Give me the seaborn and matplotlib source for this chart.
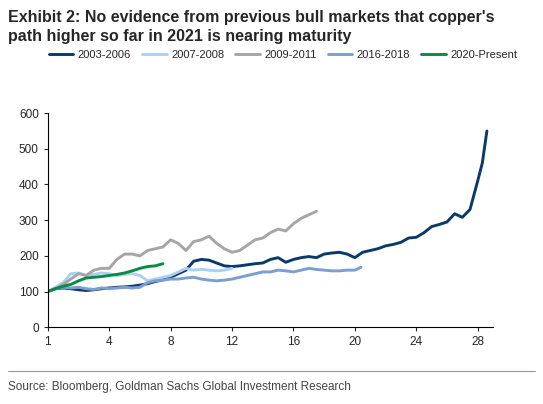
import pandas as pd
import matplotlib
matplotlib.use("Agg")
import matplotlib.pyplot as plt
import seaborn as sns

# months since start of each bull market (tick "1" sits at 0)
x_0306 = [0, 0.5, 1, 1.5, 2, 2.5, 3, 3.5, 4, 4.5, 5, 5.5, 6, 6.5, 7, 7.5, 8, 8.5, 9, 9.5, 10, 10.5, 11, 11.5, 12,
          12.5, 13, 13.5, 14, 14.5, 15, 15.5, 16, 16.5, 17, 17.5, 18, 18.5, 19, 19.5, 20, 20.5, 21, 21.5, 22, 22.5,
          23, 23.5, 24, 24.5, 25, 25.5, 26, 26.5, 27, 27.5, 28, 28.3, 28.6]
y_0306 = [100, 108, 110, 108, 105, 103, 105, 108, 110, 112, 113, 115, 118, 122, 128, 133, 140, 150, 160, 185, 190,
          188, 180, 172, 170, 172, 175, 178, 180, 190, 195, 182, 190, 195, 198, 195, 205, 208, 210, 205, 195, 210,
          215, 220, 228, 232, 238, 250, 252, 265, 282, 288, 295, 318, 308, 330, 410, 460, 550]
x_0708 = [i * 0.5 for i in range(25)]
y_0708 = [100, 112, 125, 150, 152, 145, 148, 152, 150, 145, 148, 150, 145, 130, 135, 140, 145, 155, 165, 160, 162,
          160, 158, 160, 165]
x_0911 = [i * 0.5 for i in range(36)]
y_0911 = [100, 108, 120, 135, 150, 145, 160, 165, 165, 190, 205, 205, 200, 215, 220, 225, 245, 235, 215, 240, 245,
          255, 235, 220, 210, 215, 230, 245, 250, 265, 275, 270, 290, 305, 315, 325]
x_1618 = [i * 0.5 for i in range(41)] + [20.4]
y_1618 = [100, 108, 112, 110, 112, 108, 106, 110, 108, 110, 112, 110, 112, 125, 130, 132, 135, 135, 138, 140, 135,
          132, 130, 132, 135, 140, 145, 150, 155, 155, 160, 158, 155, 160, 165, 162, 160, 158, 158, 160, 160, 168]
x_2020 = [i * 0.5 for i in range(16)]
y_2020 = [100, 108, 115, 120, 130, 138, 140, 142, 145, 148, 152, 158, 165, 170, 172, 178]

series = ["2003-2006", "2007-2008", "2009-2011", "2016-2018", "2020-Present"]
colors = ["#0b3a68", "#a9d2f2", "#a6a6a6", "#7c9fd0", "#0b8a45"]
xs = [x_0306, x_0708, x_0911, x_1618, x_2020]
ys = [y_0306, y_0708, y_0911, y_1618, y_2020]

df = pd.concat([pd.DataFrame({"month": x, "value": y, "period": s}) for x, y, s in zip(xs, ys, series)])

sns.set_style("white")
plt.rcParams["font.family"] = ["Liberation Sans", "DejaVu Sans"]
fig = plt.figure(figsize=(5.43, 4.04), dpi=100)
ax = fig.add_axes([0.088, 0.19, 0.82, 0.53])
sns.lineplot(data=df, x="month", y="value", hue="period", palette=colors, linewidth=2.1,
             ax=ax, estimator=None, sort=False)

ax.set_xlim(0, 29)
ax.set_ylim(0, 600)
ax.set_xticks([0, 4, 8, 12, 16, 20, 24, 28])
ax.set_xticklabels(["1", "4", "8", "12", "16", "20", "24", "28"])
ax.set_yticks(range(0, 601, 100))
ax.tick_params(labelsize=8.5, length=3, direction="out", bottom=True, left=True)
ax.set_xlabel("")
ax.set_ylabel("")
for s in ["top", "right"]:
    ax.spines[s].set_visible(False)
for s in ["left", "bottom"]:
    ax.spines[s].set_color("black")
    ax.spines[s].set_linewidth(0.8)

ax.legend(loc="lower left", bbox_to_anchor=(-0.02, 1.2), ncol=5, frameon=False, fontsize=8,
          handlelength=2.2, columnspacing=1.0, handletextpad=0.4)

fig.text(0.015, 0.975, "Exhibit 2: No evidence from previous bull markets that copper's\n"
         "path higher so far in 2021 is nearing maturity",
         fontsize=11.5, fontweight="bold", va="top", linespacing=1.3)
fig.add_artist(plt.Line2D([0.015, 0.985], [0.082, 0.082], color="#999999", linewidth=0.8))
fig.text(0.015, 0.035, "Source: Bloomberg, Goldman Sachs Global Investment Research",
         fontsize=8.5, color="#444444")

fig.savefig("out.png", dpi=100)
